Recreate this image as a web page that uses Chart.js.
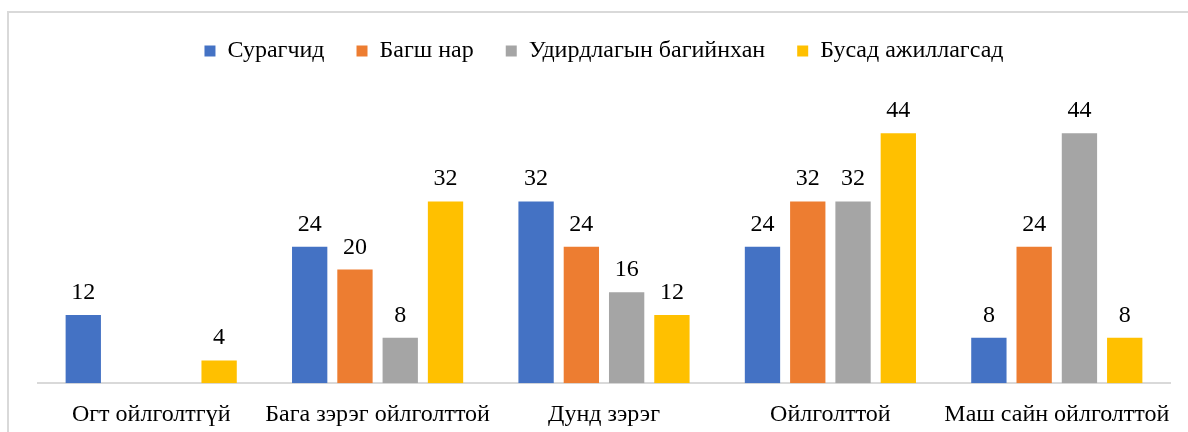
<!DOCTYPE html>
<html>
<head>
<meta charset="utf-8">
<script src="https://cdn.jsdelivr.net/npm/chart.js@4"></script>
<style>
  body { margin: 0; background: #fff; overflow: hidden; }
  #box { position: absolute; left: 7px; top: 11px; width: 1200px; height: 440px; border: 2px solid #d9d9d9; }
  #barChart { position: absolute; left: 0; top: -6px; }
</style>
</head>
<body>
<div id="box"><canvas id="barChart" width="1200" height="440"></canvas></div>
<script>
// data
var categories = ["Огт ойлголтгүй", "Бага зэрэг ойлголттой", "Дунд зэрэг", "Ойлголттой", "Маш сайн ойлголттой"];
var seriesNames = ["Сурагчид", "Багш нар", "Удирдлагын багийнхан", "Бусад ажиллагсад"];
var students = [12, 24, 32, 24, 8];
var teachers = [null, 20, 24, 32, 24];
var managers = [null, 8, 16, 32, 44];
var others = [4, 32, 12, 44, 8];
var colors = ["#4472C4", "#ED7D31", "#A5A5A5", "#FFC000"];

var FONT = "'Liberation Serif', 'Times New Roman', serif";

// draws the value above every bar
var valueLabels = {
  id: 'valueLabels',
  afterDatasetsDraw: function(chart) {
    var ctx = chart.ctx;
    ctx.save();
    ctx.font = "24px " + FONT;
    ctx.fillStyle = "#000";
    ctx.textAlign = "center";
    ctx.textBaseline = "alphabetic";
    chart.data.datasets.forEach(function(ds, i) {
      var meta = chart.getDatasetMeta(i);
      meta.data.forEach(function(bar, j) {
        var v = ds.data[j];
        if (v === null || v === undefined) return;
        ctx.fillText(String(v), bar.x, bar.y - 16);
      });
    });
    ctx.restore();
  }
};

var allSeries = [students, teachers, managers, others];
var datasets = [];
for (var i = 0; i < allSeries.length; i++) {
  datasets.push({
    label: seriesNames[i],
    data: allSeries[i],
    backgroundColor: colors[i],
    borderWidth: 0,
    categoryPercentage: 0.8,
    barPercentage: 0.78
  });
}

var ctxB = document.getElementById("barChart").getContext('2d');
var myBarChart = new Chart(ctxB, {
  type: 'bar',
  data: { labels: categories, datasets: datasets },
  plugins: [valueLabels],
  options: {
    responsive: false,
    animation: false,
    layout: { padding: { left: 29, right: 39, top: 0, bottom: 1 } },
    plugins: {
      legend: {
        position: 'top',
        labels: {
          boxWidth: 11,
          boxHeight: 11,
          padding: 32,
          color: "#000",
          font: { family: FONT, size: 24 }
        }
      },
      tooltip: { enabled: false }
    },
    scales: {
      x: {
        grid: { display: false, drawTicks: false },
        border: { display: true, color: "#d9d9d9", width: 2 },
        ticks: {
          color: "#000",
          padding: 17,
          maxRotation: 0,
          minRotation: 0,
          autoSkip: false,
          font: { family: FONT, size: 24 }
        }
      },
      y: {
        display: false,
        min: 0,
        max: 54.6
      }
    }
  }
});
</script>
</body>
</html>
